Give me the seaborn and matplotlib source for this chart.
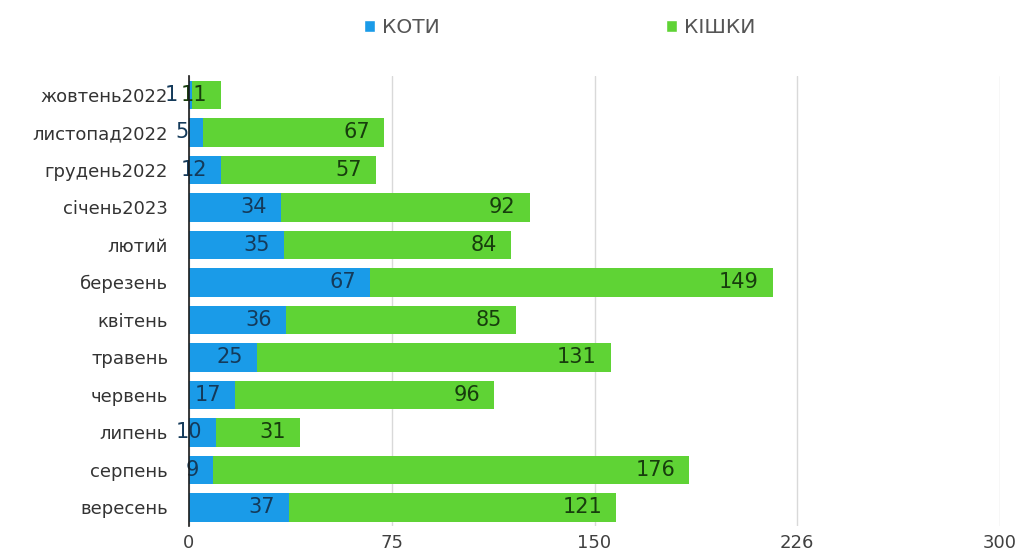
import matplotlib
matplotlib.use("Agg")
import matplotlib.pyplot as plt
from matplotlib.patches import Patch
import seaborn as sns
import pandas as pd

months = ["жовтень2022", "листопад2022", "грудень2022", "січень2023", "лютий",
          "березень", "квітень", "травень", "червень", "липень", "серпень", "вересень"]
koty = [1, 5, 12, 34, 35, 67, 36, 25, 17, 10, 9, 37]
kishky = [11, 67, 57, 92, 84, 149, 85, 131, 96, 31, 176, 121]
tick_values = [0, 75, 150, 225, 300]
tick_labels = ["0", "75", "150", "226", "300"]

BLUE = "#1a9be8"
GREEN = "#5fd335"

df = pd.DataFrame({"month": months, "koty": koty, "kishky": kishky})
df["total"] = df["koty"] + df["kishky"]

sns.set_theme(style="white")
plt.rcParams["font.family"] = ["DejaVu Sans"]

fig = plt.figure(figsize=(10.23, 5.54), dpi=100)
ax = fig.add_axes([189 / 1023, 28 / 554, (1000 - 189) / 1023, (526 - 76) / 554])

# stacked bars: full total in green, cats drawn over it in blue
sns.barplot(data=df, x="total", y="month", color=GREEN, orient="h", linewidth=0,
            width=0.76, saturation=1, ax=ax, zorder=2)
sns.barplot(data=df, x="koty", y="month", color=BLUE, orient="h", linewidth=0,
            width=0.76, saturation=1, ax=ax, zorder=3)

for i, row in df.iterrows():
    ax.annotate(str(row["koty"]), (row["koty"], i), xytext=(-10, 0),
                textcoords="offset points", ha="right", va="center",
                fontsize=15, color="#143a5a", zorder=5)
    ax.annotate(str(row["kishky"]), (row["total"], i), xytext=(-10, 0),
                textcoords="offset points", ha="right", va="center",
                fontsize=15, color="#173d0d", zorder=5)

ax.set_xlim(0, 300)
ax.set_xticks(tick_values)
ax.set_xticklabels(tick_labels, fontsize=13, color="#404040")
ax.tick_params(axis="x", length=0, pad=6)
ax.tick_params(axis="y", length=0, pad=15, labelsize=13, labelcolor="#333333")
ax.set_xlabel("")
ax.set_ylabel("")
ax.grid(axis="x", color="#d9d9d9", linewidth=1, zorder=0)
ax.set_axisbelow(True)
for side in ["top", "right", "bottom"]:
    ax.spines[side].set_visible(False)
ax.spines["left"].set_color("#1a1a1a")
ax.spines["left"].set_linewidth(1.2)
ax.spines["left"].set_zorder(6)

handles = [Patch(facecolor=BLUE, label="КОТИ"), Patch(facecolor=GREEN, label="КІШКИ")]
fig.legend(handles=handles, loc="upper center", bbox_to_anchor=(0.547, 1.0), ncol=2,
           frameon=False, fontsize=14.5, handlelength=0.55, handleheight=0.55,
           handletextpad=0.35, columnspacing=11.2, labelcolor="#555555")

fig.savefig("out.png", dpi=100)
